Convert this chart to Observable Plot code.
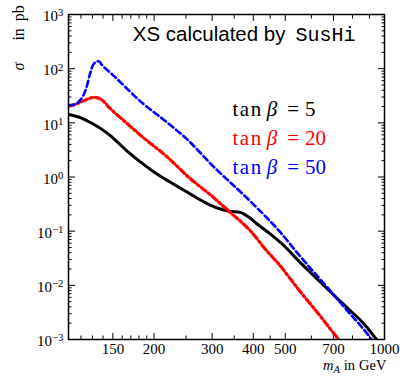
<!DOCTYPE html>
<html><head><meta charset="utf-8">
<script src="https://cdn.jsdelivr.net/npm/d3@7"></script>
<script src="https://cdn.jsdelivr.net/npm/@observablehq/plot@0.6"></script>
<style>html,body{margin:0;padding:0;background:#fff} svg{display:block}</style>
</head><body><div id="chart"></div>
<script>
// tan beta = 5 (black, solid)
const mA5 = [110,120,130,145,165,185,208,230,257,285,310,340,365,390,410,450,494,550,624,700,788,870,946,1000];
const xs5 = [14.3,12.4,9.7,6.3,3.08,1.75,1.05,0.73,0.49,0.34,0.27,0.234,0.222,0.177,0.137,0.089,0.055,0.028,0.0132,0.0067,0.0034,0.0019,0.001,0.00068];
// tan beta = 20 (red, dash-dot)
const mA20 = [110,115,120,126,132,138,147,165,185,220,254,300,340,391,440,477,550,630,726,760];
const xs20 = [20.5,21.8,24.3,27.6,29.6,27.3,18.5,9.9,5.4,2.3,1.0,0.44,0.224,0.103,0.043,0.025,0.0082,0.003,0.001,0.00072];
// tan beta = 50 (blue, dashed)
const mA50 = [110,115,119,122,124.8,127.8,130.8,135.5,140,150,185.5,220,254,300,391,483,550,624,700,788,850,906,950];
const xs50 = [21,21.8,25.8,32,45.5,80,119,137,111,76,22.4,10,4.72,1.65,0.36,0.0957,0.0366,0.0151,0.0068,0.00293,0.00174,0.00107,0.0007];

const xMajor = [150,200,300,400,500,700,1000];
const xMinor = [120,130,140,160,170,180,190,250,350,450,600,800,900];
const yMajor = [1e-3,1e-2,1e-1,1,10,100,1000];
const yMinor = yMajor.slice(0,-1).flatMap(d => [2,3,4,5,6,7,8,9].map(k => k*d));

const legendLabels = ["tan β = 5","tan β = 20","tan β = 50"];
const legendColors = ["#000000","#ff0000","#0000ff"];
const titleMain = "XS calculated by";
const titleCode = "SusHi";
const yLabel = "σ in pb";
const xLabel = "mA in GeV";

const SERIF = "Liberation Serif, DejaVu Serif, serif";
const SANS = "Liberation Sans, Arimo, Helvetica, sans-serif";
const MONO = "Liberation Mono, DejaVu Sans Mono, monospace";

const toRows = (xs, ys) => xs.map((m, i) => ({m, s: ys[i]}));
const d5 = toRows(mA5, xs5), d20 = toRows(mA20, xs20), d50 = toRows(mA50, xs50);

const tickX = (anchor, ticks, size) => Plot.axisX({anchor, ticks, tickSize: size, text: null, label: null, strokeWidth: 1});
const tickY = (anchor, ticks, size) => Plot.axisY({anchor, ticks, tickSize: size, text: null, label: null, strokeWidth: 1});

const chart = Plot.plot({
  width: 400, height: 376,
  marginTop: 14, marginRight: 16, marginBottom: 37, marginLeft: 68,
  style: {fontFamily: SERIF, fontSize: "15px", background: "white", color: "black", overflow: "visible"},
  x: {type: "log", domain: [110, 1000], label: null},
  y: {type: "log", domain: [1e-3, 1e3], label: null},
  marks: [
    tickX("bottom", xMajor, -6), tickX("bottom", xMinor, -3.5),
    tickX("top", xMajor, -6), tickX("top", xMinor, -3.5),
    tickY("left", yMajor, -7), tickY("left", yMinor, -3.5),
    tickY("right", yMajor, -7), tickY("right", yMinor, -3.5),
    Plot.axisX({anchor: "bottom", ticks: xMajor, tickSize: 0, tickPadding: 4, tickFormat: d => String(d), label: null, fontSize: 15, fontFamily: SERIF}),
    Plot.axisY({anchor: "left", ticks: yMajor, tickSize: 0, tickPadding: 5, dy: 2, tickFormat: d => "10^" + Math.round(Math.log10(d)), label: null, fontSize: 15, fontFamily: SERIF}),
    Plot.line(d5, {x: "m", y: "s", stroke: legendColors[0], strokeWidth: 3, curve: "monotone-x", clip: true}),
    Plot.line(d20, {x: "m", y: "s", stroke: legendColors[1], strokeWidth: 3.2, strokeDasharray: "6,3,2,3", curve: "monotone-x", clip: true}),
    Plot.line(d50, {x: "m", y: "s", stroke: legendColors[2], strokeWidth: 2.6, strokeDasharray: "6,3.5", curve: "monotone-x", clip: true}),
    Plot.text([titleMain], {text: d => d, frameAnchor: "top", textAnchor: "end", lineAnchor: "bottom", dx: 59, dy: 26, fontFamily: SANS, fontSize: 20.5, fill: "black"}),
    Plot.text([titleCode], {text: d => d, frameAnchor: "top", textAnchor: "start", lineAnchor: "bottom", dx: 69, dy: 26, fontFamily: MONO, fontSize: 20, fill: "black"}),
    ...legendLabels.map((lab, i) => Plot.text([lab], {text: d => d, frameAnchor: "top-left", textAnchor: "start", lineAnchor: "bottom", dx: 164, dy: 101 + 29 * i, fontSize: 21, fontFamily: SERIF, fill: legendColors[i]})),
    Plot.text([yLabel], {text: d => d, frameAnchor: "top-left", textAnchor: "start", lineAnchor: "middle", rotate: -90, dx: -50, dy: 56, fontSize: 16, fontFamily: SERIF, fill: "black"}),
    Plot.text([xLabel], {text: d => d, frameAnchor: "bottom-right", textAnchor: "end", lineAnchor: "bottom", dx: 2, dy: 30, fontSize: 14.5, fontFamily: SERIF, fill: "black"}),
    Plot.frame({stroke: "black", strokeWidth: 1.5})
  ]
});

const NS = "http://www.w3.org/2000/svg";
function ts(parent, txt, attrs = {}) {
  const e = document.createElementNS(NS, "tspan");
  e.textContent = txt;
  for (const [k, v] of Object.entries(attrs)) e.setAttribute(k, v);
  parent.appendChild(e);
  return e;
}
chart.querySelectorAll("text").forEach(t => {
  const s = t.textContent;
  let m;
  if ((m = s.match(/^10\^(-?\d+)$/))) {
    t.textContent = "10";
    ts(t, m[1].replace("-", "\u2212"), {dy: "-0.45em", "font-size": "0.72em"});
  } else if (s.startsWith("tan β = ")) {
    const v = s.slice(8);
    t.textContent = "";
    ts(t, "tan", {"letter-spacing": "1.5"});
    ts(t, "β", {"font-style": "italic", dx: 4});
    ts(t, "=", {dx: 10});
    ts(t, v, {dx: 6});
  } else if (s === yLabel) {
    t.textContent = "";
    ts(t, "σ", {"font-style": "italic"});
    ts(t, "in", {dx: 22});
    ts(t, "pb", {dx: 7});
  } else if (s === xLabel) {
    t.textContent = "";
    ts(t, "m", {"font-style": "italic"});
    ts(t, "A", {"font-style": "italic", "font-size": "0.72em", dy: 3});
    ts(t, "in", {dy: -3, dx: 4});
    ts(t, "GeV", {dx: 4});
  }
});
document.getElementById("chart").appendChild(chart);
</script>
</body></html>
